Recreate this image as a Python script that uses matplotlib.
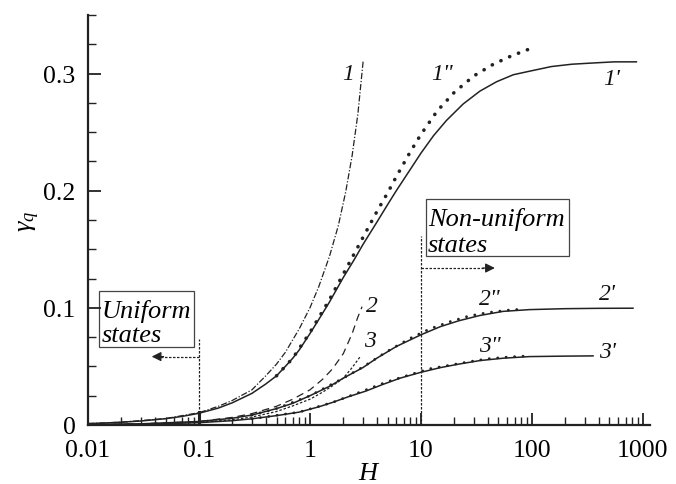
import matplotlib
matplotlib.use("Agg")
import matplotlib.pyplot as plt
from matplotlib.patches import Rectangle
from matplotlib.ticker import FixedLocator, FixedFormatter, MultipleLocator, LogLocator, NullFormatter

plt.rcParams['font.family'] = ['Liberation Serif', 'DejaVu Serif']
plt.rcParams['mathtext.fontset'] = 'custom'
plt.rcParams['mathtext.it'] = 'Liberation Serif:italic'
plt.rcParams['mathtext.rm'] = 'Liberation Serif'

# ---- data ----
H_1 = [0.01, 0.02, 0.05, 0.1, 0.15, 0.2, 0.3, 0.4, 0.5, 0.6, 0.8, 1.0, 1.2, 1.5, 1.8, 2.1, 2.4, 2.7, 3.02]
g_1 = [0.0012, 0.0024, 0.0055, 0.0105, 0.016, 0.021, 0.030, 0.042, 0.052, 0.062, 0.082, 0.100,
       0.118, 0.144, 0.170, 0.199, 0.230, 0.265, 0.311]

H_1p = [0.01, 0.015, 0.02, 0.03, 0.05, 0.07, 0.1, 0.15, 0.2, 0.3, 0.4, 0.5, 0.6, 0.7, 0.8, 1.0,
        1.2, 1.5, 2.0, 2.5, 3.0, 4.0, 5.0, 6.0, 8.0, 10, 13, 17, 24, 34, 48, 68, 95, 150, 230,
        350, 550, 875]
g_1p = [0.0012, 0.0018, 0.0024, 0.0034, 0.0054, 0.0073, 0.010, 0.0145, 0.019, 0.027, 0.035,
        0.042, 0.050, 0.057, 0.064, 0.078, 0.090, 0.105, 0.126, 0.141, 0.154, 0.173, 0.188,
        0.200, 0.218, 0.232, 0.247, 0.260, 0.274, 0.285, 0.293, 0.299, 0.302, 0.306, 0.308,
        0.309, 0.310, 0.310]

H_1pp = [0.5, 0.7, 1.0, 1.5, 2.0, 2.5, 3.0, 4.0, 5.0, 6.0, 8.0, 10, 14, 20, 30, 45, 65, 95]
g_1pp = [0.042, 0.057, 0.079, 0.107, 0.129, 0.146, 0.160, 0.182, 0.198, 0.212, 0.233, 0.248,
         0.268, 0.284, 0.298, 0.308, 0.315, 0.321]

H_2 = [0.01, 0.03, 0.1, 0.2, 0.3, 0.5, 0.7, 1.0, 1.3, 1.6, 2.0, 2.4, 2.7, 2.95]
g_2 = [0.0003, 0.001, 0.003, 0.0065, 0.0097, 0.016, 0.022, 0.030, 0.039, 0.048, 0.061, 0.078,
       0.092, 0.101]

H_2p = [0.01, 0.03, 0.1, 0.2, 0.3, 0.5, 0.7, 1.0, 1.5, 2.0, 3.0, 4.0, 6.0, 10, 15, 22, 34, 55,
        95, 200, 400, 815]
g_2p = [0.0003, 0.001, 0.003, 0.0058, 0.0085, 0.014, 0.0185, 0.025, 0.033, 0.040, 0.049, 0.057,
        0.067, 0.077, 0.084, 0.089, 0.0935, 0.097, 0.0985, 0.0993, 0.0996, 0.0997]

H_2pp = [0.3, 0.5, 1.0, 2.0, 3.0, 5.0, 8.0, 12, 18, 27, 40, 60, 86]
g_2pp = [0.0085, 0.014, 0.025, 0.040, 0.0495, 0.063, 0.074, 0.082, 0.088, 0.093, 0.096, 0.098,
         0.099]

H_3 = [0.01, 0.03, 0.1, 0.2, 0.3, 0.5, 0.7, 1.0, 1.3, 1.6, 2.0, 2.4, 2.82]
g_3 = [0.0002, 0.0007, 0.0022, 0.0045, 0.0068, 0.0115, 0.0163, 0.022, 0.028, 0.0335, 0.040,
       0.049, 0.058]

H_3p = [0.01, 0.03, 0.1, 0.2, 0.3, 0.5, 0.8, 1.2, 1.6, 2.2, 3.2, 4.5, 6.5, 10, 15, 22, 34, 55,
        95, 200, 356]
g_3p = [0.0002, 0.0006, 0.002, 0.0037, 0.0053, 0.008, 0.011, 0.0155, 0.0193, 0.024, 0.029,
        0.0345, 0.040, 0.045, 0.049, 0.052, 0.055, 0.057, 0.0584, 0.0588, 0.059]

H_3pp = [0.3, 0.8, 1.6, 3.0, 5.0, 8.0, 12, 18, 27, 40, 60, 95]
g_3pp = [0.0053, 0.011, 0.0193, 0.029, 0.037, 0.043, 0.048, 0.051, 0.054, 0.0565, 0.058, 0.059]

x_ticks = [0.01, 0.1, 1, 10, 100, 1000]
x_ticklabels = ['0.01', '0.1', '1', '10', '100', '1000']
y_ticks = [0, 0.1, 0.2, 0.3]
y_ticklabels = ['0', '0.1', '0.2', '0.3']

curve_labels = ['1', '1"', "1'", '2', '3', '2"', "2'", '3"', "3'"]
label_H = [2.2, 15.5, 525, 3.6, 3.47, 41.9, 484, 41.9, 484]
label_g = [0.300, 0.300, 0.296, 0.1017, 0.0718, 0.1077, 0.112, 0.0675, 0.063]

# ---- figure ----
fig = plt.figure(figsize=(6.76, 4.85), dpi=100)
ax = fig.add_axes([88/676, 1-426/485, (650-88)/676, (426-16)/485])
ax.set_xscale('log')
ax.set_xlim(0.01, 1160)
ax.set_ylim(0, 0.35)

lc = '#222222'
ax.plot(H_1, g_1, color=lc, lw=0.9, linestyle=(0, (5, 1.5, 1, 1.5)))
ax.plot(H_1p, g_1p, color=lc, lw=1.1, linestyle='-')
ax.plot(H_1pp, g_1pp, color=lc, lw=2.6, linestyle=(0, (0.05, 2.6)), dash_capstyle='round')
ax.plot(H_2, g_2, color=lc, lw=0.9, linestyle=(0, (6, 4)))
ax.plot(H_2p, g_2p, color=lc, lw=1.1, linestyle='-')
ax.plot(H_2pp, g_2pp, color=lc, lw=2.0, linestyle=(0, (0.05, 3.0)), dash_capstyle='round')
ax.plot(H_3, g_3, color=lc, lw=0.9, linestyle=(0, (2, 1.5)))
ax.plot(H_3p, g_3p, color=lc, lw=1.1, linestyle='-')
ax.plot(H_3pp, g_3pp, color=lc, lw=2.0, linestyle=(0, (0.05, 3.0)), dash_capstyle='round')

for t, x, y in zip(curve_labels, label_H, label_g):
    ax.text(x, y, t, fontsize=17, style='italic', ha='center', va='center', color='#111111')

# regions
ax.plot([0.1, 0.1], [0, 0.0735], color=lc, lw=0.9, linestyle=(0, (2, 1.2)))
ax.plot([0.1, 0.1], [0, 0.011], color=lc, lw=2.2)
ax.plot([0.1, 0.045], [0.0584, 0.0584], color=lc, lw=0.9, linestyle=(0, (2, 1.2)))
ax.annotate('', xy=(0.0375, 0.0584), xytext=(0.048, 0.0584),
            arrowprops=dict(arrowstyle='-|>', color=lc, lw=0.9, mutation_scale=14, shrinkA=0, shrinkB=0))
ax.plot([10, 10], [0, 0.1615], color=lc, lw=0.9, linestyle=(0, (2, 1.2)))
ax.plot([10, 38], [0.134, 0.134], color=lc, lw=0.9, linestyle=(0, (2, 1.2)))
ax.annotate('', xy=(46.4, 0.134), xytext=(36, 0.134),
            arrowprops=dict(arrowstyle='-|>', color=lc, lw=0.9, mutation_scale=14, shrinkA=0, shrinkB=0))

ax.add_patch(Rectangle((0.01248, 0.0664), 0.0895-0.01248, 0.1148-0.0664, fill=False,
                       edgecolor='#444444', lw=0.9))
ax.text(0.0132, 0.0975, 'Uniform', fontsize=19, style='italic', ha='left', va='center')
ax.text(0.0132, 0.0772, 'states', fontsize=19, style='italic', ha='left', va='center')
ax.add_patch(Rectangle((11.0, 0.1444), 217-11.0, 0.1926-0.1444, fill=False,
                       edgecolor='#444444', lw=0.9))
ax.text(11.6, 0.176, 'Non-uniform', fontsize=19, style='italic', ha='left', va='center')
ax.text(11.6, 0.154, 'states', fontsize=19, style='italic', ha='left', va='center', clip_on=False)

# axes styling
for s in ['top', 'right']:
    ax.spines[s].set_visible(False)
for s in ['left', 'bottom']:
    ax.spines[s].set_linewidth(1.6)
    ax.spines[s].set_color('#222222')

ax.xaxis.set_major_locator(FixedLocator(x_ticks))
ax.xaxis.set_major_formatter(FixedFormatter(x_ticklabels))
ax.xaxis.set_minor_locator(LogLocator(base=10, subs=range(2, 10), numticks=20))
ax.xaxis.set_minor_formatter(NullFormatter())
ax.yaxis.set_major_locator(FixedLocator(y_ticks))
ax.yaxis.set_major_formatter(FixedFormatter(y_ticklabels))
ax.yaxis.set_minor_locator(MultipleLocator(0.025))
ax.tick_params(which='major', direction='in', length=9, width=1.3, labelsize=18.5, color='#222222')
ax.tick_params(which='minor', direction='in', length=6, width=1.0, color='#222222')
ax.tick_params(axis='x', which='major', pad=10)
ax.tick_params(axis='y', which='major', pad=9)

ax.set_xlabel('$H$', fontsize=19, labelpad=1)
ax.set_ylabel(r'$\gamma_q$', fontsize=19, labelpad=1)

fig.savefig('out.png', dpi=100)
